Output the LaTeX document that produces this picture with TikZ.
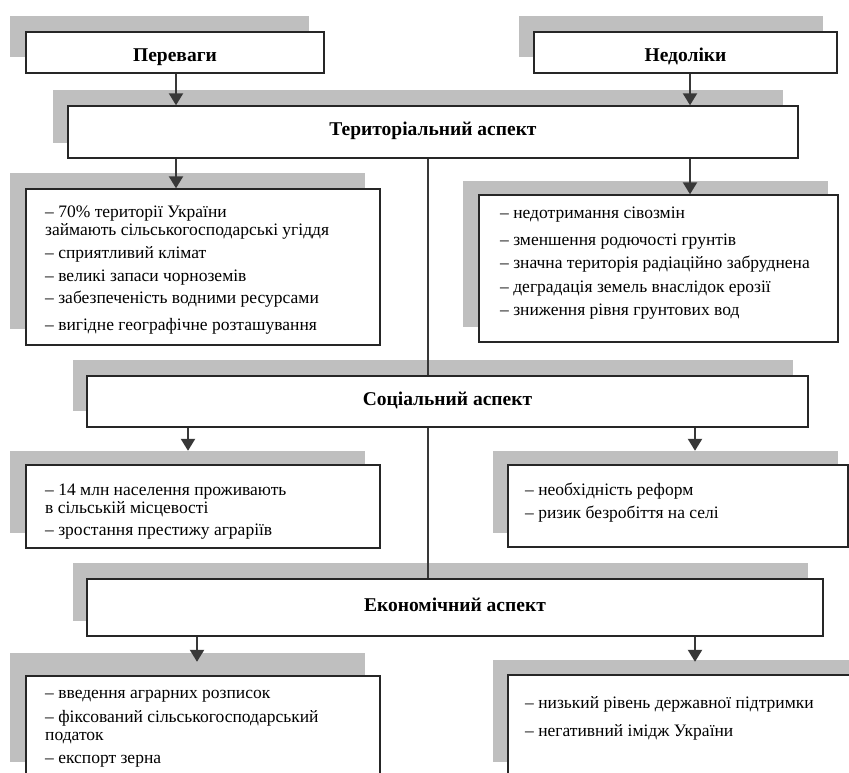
\documentclass[tikz,border=0pt]{standalone}
\usepackage{fontspec}
\setmainfont{Liberation Serif}
\usetikzlibrary{arrows.meta,calc}
\definecolor{shd}{gray}{0.75}
\definecolor{edgec}{gray}{0.15}
\definecolor{arrc}{gray}{0.22}
\begin{document}
\begin{tikzpicture}[x=1pt,y=-1pt,
 shadowbox/.style={fill=shd, draw=none, inner sep=0pt},
 box/.style={fill=white, draw=edgec, line width=1.4pt, inner sep=0pt},
 ttl/.style={font=\fontsize{19.5}{22}\selectfont\bfseries, text depth=0pt},
 head/.style={ttl, text height=19pt},
 aspect/.style={ttl, text height=7pt},
 lst/.style={font=\fontsize{17.5}{18}\selectfont, align=left, anchor=north west, inner sep=0pt},
 arrow/.style={draw=arrc, line width=2.2pt, -{Triangle[width=14pt,length=12pt]}},
 link/.style={draw=arrc, line width=1.5pt}]
\clip (0,0) rectangle (849,773);
\fill[white] (0,0) rectangle (849,773);
% shadows
\node[shadowbox, minimum width=299, minimum height=41] (pers) at (159.5,36.5) {};
\node[shadowbox, minimum width=304, minimum height=41] (neds) at (671,36.5) {};
\node[shadowbox, minimum width=730, minimum height=53] (terrs) at (418,116.5) {};
\node[shadowbox, minimum width=355, minimum height=156] (l1s) at (187.5,251) {};
\node[shadowbox, minimum width=365, minimum height=146] (r1s) at (645.5,254) {};
\node[shadowbox, minimum width=720, minimum height=51] (socs) at (433,385.5) {};
\node[shadowbox, minimum width=355, minimum height=82] (l2s) at (187.5,492) {};
\node[shadowbox, minimum width=345, minimum height=82] (r2s) at (665.5,492) {};
\node[shadowbox, minimum width=735, minimum height=58] (ecos) at (440.5,592) {};
\node[shadowbox, minimum width=355, minimum height=109] (l3s) at (187.5,707.5) {};
\node[shadowbox, minimum width=362, minimum height=102] (r3s) at (674,711) {};
% boxes
\node[box, head, minimum width=298, minimum height=41] (per) at (175,52.5) {Переваги};
\node[box, head, minimum width=303, minimum height=41] (ned) at (685.5,52.5) {Недоліки};
\node[box, aspect, minimum width=730, minimum height=52] (terr) at (433,132) {Територіальний аспект};
\node[box, minimum width=354, minimum height=156] (l1) at (203,267) {};
\node[box, minimum width=359, minimum height=147] (r1) at (658.5,268.5) {};
\node[box, aspect, minimum width=721, minimum height=51] (soc) at (447.5,401.5) {Соціальний аспект};
\node[box, minimum width=354, minimum height=83] (l2) at (203,506.5) {};
\node[box, minimum width=340, minimum height=82] (r2) at (678,506) {};
\node[box, aspect, minimum width=736, minimum height=57] (eco) at (455,607.5) {Економічний аспект};
\node[box, minimum width=354, minimum height=114] (l3) at (203,733) {};
\node[box, minimum width=362, minimum height=115] (r3) at (689,732.5) {};
% texts
\node[lst] (l1t) at (45,206) {– 70\% території України\\займають сільськогосподарські угіддя\\[5pt]– сприятливий клімат\\[5pt]– великі запаси чорноземів\\[4pt]– забезпеченість водними ресурсами\\[9pt]– вигідне географічне розташування};
\node[lst] (r1t) at (500,207) {– недотримання сівозмін\\[9pt]– зменшення родючості грунтів\\[5pt]– значна територія радіаційно забруднена\\[6pt]– деградація земель внаслідок ерозії\\[5pt]– зниження рівня грунтових вод};
\node[lst] (l2t) at (45,484) {– 14 млн населення проживають\\в сільській місцевості\\[4pt]– зростання престижу аграріїв};
\node[lst] (r2t) at (525,483) {– необхідність реформ\\[5pt]– ризик безробіття на селі};
\node[lst] (l3t) at (45,690) {– введення аграрних розписок\\[6pt]– фіксований сільськогосподарський\\податок\\[5pt]– експорт зерна};
\node[lst] (r3t) at (525,696) {– низький рівень державної підтримки\\[10pt]– негативний імідж України};
% connectors
\coordinate (xa) at (176,0);
\coordinate (xb) at (690,0);
\coordinate (xc) at (428,0);
\coordinate (xd) at (188,0);
\coordinate (xe) at (695,0);
\coordinate (xf) at (197,0);
\draw[arrow] (per.south -| xa) -- (terr.north -| xa);
\draw[arrow] (ned.south -| xb) -- (terr.north -| xb);
\draw[arrow] (terr.south -| xa) -- (l1.north -| xa);
\draw[arrow] (terr.south -| xb) -- (r1.north -| xb);
\draw[link] (terr.south -| xc) -- (soc.north -| xc);
\draw[link] (soc.south -| xc) -- (eco.north -| xc);
\draw[arrow] (soc.south -| xd) -- (l2s.north -| xd);
\draw[arrow] (soc.south -| xe) -- (r2s.north -| xe);
\draw[arrow] (eco.south -| xf) -- ([yshift=-9pt]l3s.north -| xf);
\draw[arrow] (eco.south -| xe) -- ([yshift=-2pt]r3s.north -| xe);
\end{tikzpicture}
\end{document}
